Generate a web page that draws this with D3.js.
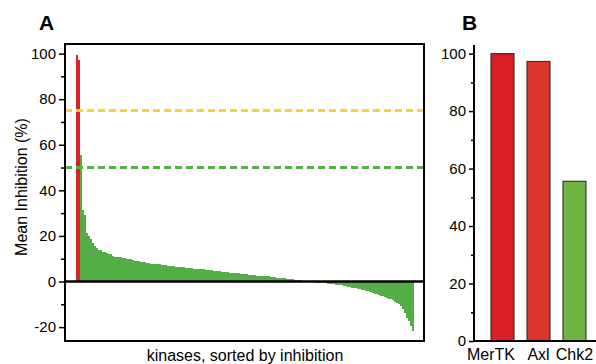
<!DOCTYPE html>
<html>
<head>
<meta charset="utf-8">
<script src="https://cdn.jsdelivr.net/npm/d3@7"></script>
<style>
    html, body { margin: 0; padding: 0; background: #fff; }
    svg { display: block; font-family: 'Liberation Sans', Arial, sans-serif; }
</style>
</head>
<body>
<div id="chart"></div>
<script>
// Panel A: mean inhibition of every kinase in the panel, sorted
const sortedInhibition = [
    99.5, 97.2, 55.6,
    31.5, 29.0, 21.2, 20.0, 18.6, 16.8, 15.5, 14.5, 14.0, 13.7,
    13.1, 12.8, 12.4, 11.9, 11.9, 11.4, 10.9, 10.9, 10.6, 10.6,
    10.3, 10.2, 10.0, 9.9, 9.7, 9.4, 9.2, 9.0, 8.8, 8.5,
    8.5, 8.5, 8.3, 8.1, 7.8, 7.8, 7.7, 7.6, 7.6, 7.5,
    7.3, 7.3, 7.2, 6.9, 6.8, 6.8, 6.6, 6.4, 6.3, 6.3,
    6.2, 6.2, 6.0, 5.9, 5.9, 5.8, 5.7, 5.5, 5.5, 5.4,
    5.4, 5.3, 5.1, 5.0, 5.0, 4.9, 4.6, 4.6, 4.5, 4.5,
    4.3, 4.1, 4.1, 4.0, 3.8, 3.8, 3.7, 3.7, 3.7, 3.6,
    3.5, 3.4, 3.3, 3.2, 3.0, 2.9, 2.8, 2.8, 2.6, 2.4,
    2.4, 2.4, 2.3, 2.3, 2.2, 2.1, 1.9, 1.8, 1.5, 1.5,
    1.5, 1.4, 1.4, 1.3, 1.1, 1.1, 1.0, 0.8, 0.6, 0.6,
    0.5, 0.4, 0.2, 0.1, 0.1, 0.0, -0.1, -0.2, -0.4, -0.6,
    -0.7, -0.7, -0.8, -0.8, -0.9, -1.1, -1.1, -1.2, -1.4, -1.5,
    -1.5, -1.7, -1.8, -2.1, -2.3, -2.5, -2.7, -2.8, -3.0, -3.2,
    -3.4, -3.6, -3.8, -4.0, -4.3, -4.5, -4.8, -5.0, -5.4, -5.6,
    -6.0, -6.2, -6.5, -6.8, -7.1, -7.5, -7.8, -8.3, -8.8, -9.3,
    -10.0, -10.8, -12.2, -14.0, -15.8, -17.5, -19.5, -21.5
];
const thresholds = [75, 50];
const ticksA = [-20, 0, 20, 40, 60, 80, 100];
const minorTicksA = [-10, 10, 30, 50, 70, 90];

// Panel B: the three highlighted kinases
const selectedKinases = ['MerTK', 'Axl', 'Chk2'];
const selectedInhibition = [100, 97.3, 55.6];
const ticksB = [0, 20, 40, 60, 80, 100];
const minorTicksB = [10, 30, 50, 70, 90];

const width = 596;
const height = 364;
const red = '#d82228';
const green = '#53ae46';
const yellow = '#f7d338';

const svg = d3.select('#chart')
    .append('svg')
    .attr('width', width)
    .attr('height', height);

// ---------- panel A ----------
const frame = { left: 65, right: 424, top: 44, bottom: 341 };

const xA = d3.scaleBand()
    .domain(d3.range(sortedInhibition.length))
    .range([76, 414])
    .padding(0);

const yA = d3.scaleLinear()
    .domain([-26.1, 104.2])
    .range([frame.bottom, frame.top]);

// bars
svg.append('g')
    .attr('class', 'bars-a')
    .selectAll('rect')
    .data(sortedInhibition)
    .join('rect')
    .attr('x', (d, i) => xA(i))
    .attr('width', xA.bandwidth() + 0.4)
    .attr('y', d => yA(Math.max(0, d)))
    .attr('height', d => Math.abs(yA(d) - yA(0)))
    .attr('fill', (d, i) => i < 2 ? red : green)
    .attr('shape-rendering', 'crispEdges');

// threshold lines
svg.append('g')
    .selectAll('line')
    .data(thresholds)
    .join('line')
    .attr('x1', frame.left)
    .attr('x2', frame.right)
    .attr('y1', d => yA(d))
    .attr('y2', d => yA(d))
    .attr('stroke', (d, i) => i === 0 ? yellow : green)
    .attr('stroke-width', 3)
    .attr('stroke-dasharray', '7,4');

// zero line
svg.append('line')
    .attr('x1', frame.left)
    .attr('x2', frame.right)
    .attr('y1', yA(0))
    .attr('y2', yA(0))
    .attr('stroke', '#000')
    .attr('stroke-width', 2.5);

// frame
svg.append('rect')
    .attr('x', frame.left)
    .attr('y', frame.top)
    .attr('width', frame.right - frame.left)
    .attr('height', frame.bottom - frame.top)
    .attr('fill', 'none')
    .attr('stroke', '#000')
    .attr('stroke-width', 2);

// y axis A
const yAxisA = svg.append('g')
    .attr('transform', `translate(${frame.left - 1}, 0)`)
    .call(d3.axisLeft(yA).tickValues(ticksA).tickSize(5).tickPadding(3).tickFormat(d => String(d)));
yAxisA.select('.domain').remove();

const yMinorA = svg.append('g')
    .attr('transform', `translate(${frame.left - 1}, 0)`)
    .call(d3.axisLeft(yA).tickValues(minorTicksA).tickSize(3).tickFormat(''));
yMinorA.select('.domain').remove();

// axis titles
svg.append('text')
    .attr('transform', 'translate(27, 187) rotate(-90)')
    .attr('text-anchor', 'middle')
    .style('font-size', '16px')
    .text('Mean Inhibition (%)');

svg.append('text')
    .attr('x', 245)
    .attr('y', 361)
    .attr('text-anchor', 'middle')
    .style('font-size', '16px')
    .text('kinases, sorted by inhibition');

// ---------- panel B ----------
const xB = d3.scaleBand()
    .domain(selectedKinases)
    .range([482, 595])
    .paddingInner(0.36)
    .paddingOuter(0.25);

const yB = d3.scaleLinear()
    .domain([0, 103])
    .range([341, 45]);

svg.append('g')
    .selectAll('rect')
    .data(selectedInhibition)
    .join('rect')
    .attr('x', (d, i) => xB(selectedKinases[i]))
    .attr('width', xB.bandwidth())
    .attr('y', d => yB(d))
    .attr('height', d => yB(0) - yB(d))
    .attr('fill', (d, i) => i === 0 ? '#d92027' : i === 1 ? '#dc3529' : '#6db443')
    .attr('stroke', '#222')
    .attr('stroke-width', 1);

// y axis B
const yAxisB = svg.append('g')
    .attr('transform', 'translate(474, 0)')
    .call(d3.axisLeft(yB).tickValues(ticksB).tickSize(5).tickPadding(3).tickFormat(d => String(d)));
yAxisB.select('.domain')
    .attr('d', `M0,${yB(103)}V${yB(0)}`)
    .attr('stroke-width', 2);

const yMinorB = svg.append('g')
    .attr('transform', 'translate(474, 0)')
    .call(d3.axisLeft(yB).tickValues(minorTicksB).tickSize(3).tickFormat(''));
yMinorB.select('.domain').remove();

// x axis B
const xAxisB = svg.append('g')
    .attr('transform', `translate(0, ${yB(0)})`)
    .call(d3.axisBottom(xB).tickSize(0).tickPadding(7.5));
xAxisB.select('.domain')
    .attr('d', `M473,0H596`)
    .attr('stroke-width', 2);

// shared axis styling
svg.selectAll('.tick text')
    .style('font-size', '15px')
    .style('font-family', "'Liberation Sans', Arial, sans-serif")
    .attr('fill', '#000');
svg.selectAll('.tick line')
    .attr('stroke', '#000')
    .attr('stroke-width', 1.5);

// category labels: the long first one is pulled left so it doesn't crowd "Axl"
xAxisB.selectAll('.tick text')
    .style('font-size', '16px')
    .attr('text-anchor', (d, i) => i === 0 ? 'end' : 'middle')
    .attr('x', (d, i) => i === 0 ? xB.bandwidth() / 2 + 1 : 0);

// panel letters
svg.append('text')
    .attr('x', 39)
    .attr('y', 30)
    .style('font-size', '21px')
    .style('font-weight', 'bold')
    .text('A');

svg.append('text')
    .attr('x', 462)
    .attr('y', 30)
    .style('font-size', '21px')
    .style('font-weight', 'bold')
    .text('B');
</script>
</body>
</html>
